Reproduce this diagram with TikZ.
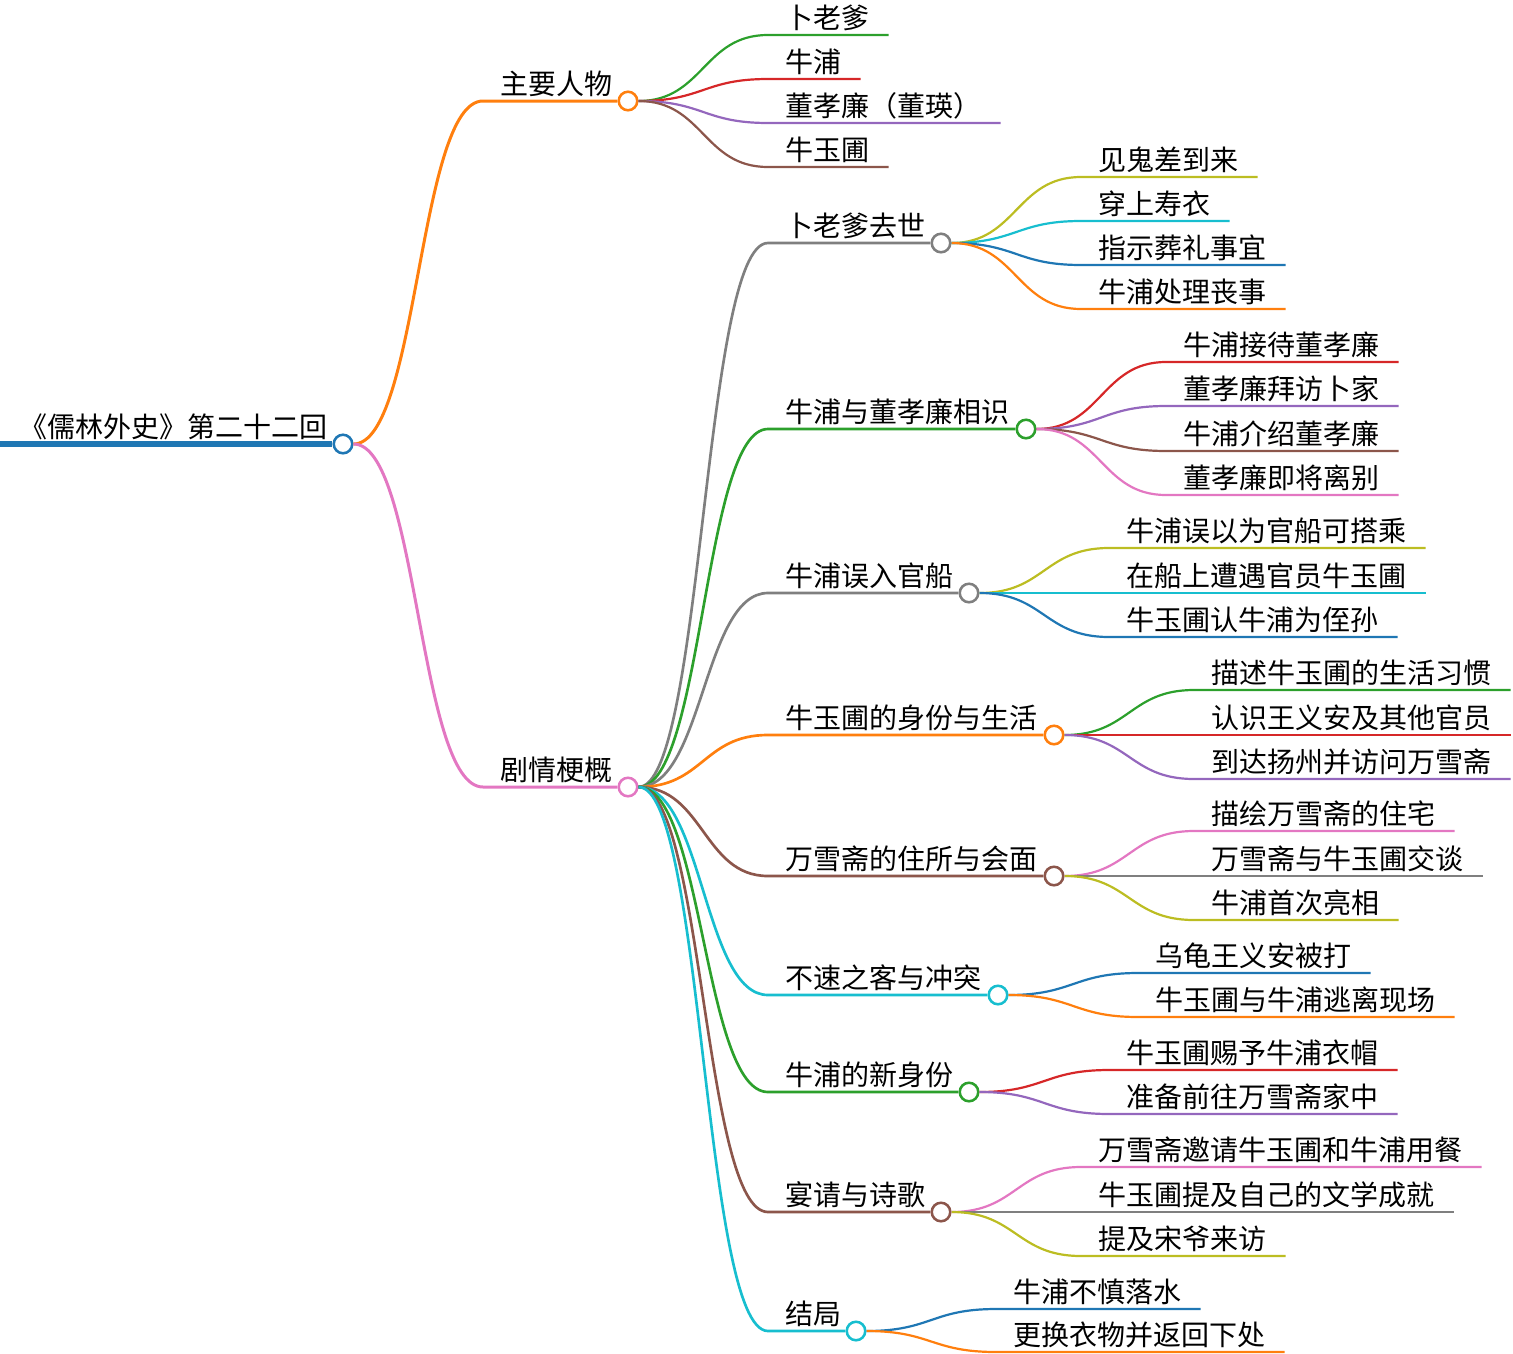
\documentclass[tikz,border=0pt]{standalone}
\usepackage{fontspec}
\newfontfamily\cjk{Noto Sans CJK SC}
\usetikzlibrary{calc}
\definecolor{cblue}{HTML}{1F77B4}
\definecolor{corange}{HTML}{FF7F0E}
\definecolor{cgreen}{HTML}{2CA02C}
\definecolor{cred}{HTML}{D62728}
\definecolor{cpurple}{HTML}{9467BD}
\definecolor{cbrown}{HTML}{8C564B}
\definecolor{cpink}{HTML}{E377C2}
\definecolor{cgray}{HTML}{7F7F7F}
\definecolor{colive}{HTML}{BCBD22}
\definecolor{ccyan}{HTML}{17BECF}
\newcommand\mmbranch[8]{%
  \node[txt] (#2t) at (#4+17,#3-7) {#8};
  \node[dot,draw=#6] (#2) at (#5,#3) {};
  \coordinate (#2s) at (#4,#3);
  \path ($(#1.east)!0.5!(#2s)$) coordinate (m);
  \draw[#7,#6] (#1.east) .. controls (m |- #1.east) and (m |- #2s) .. (#2s) -- (#2.west);
}
\newcommand\mmleaf[6]{%
  \node[txt] (#2) at (#4+17,#3-7) {#6};
  \coordinate (#2s) at (#4,#3);
  \coordinate (#2e) at ($(#2.base east)+(19,7)$);
  \path ($(#1.east)!0.5!(#2s)$) coordinate (m);
  \draw[l3,#5] (#1.east) .. controls (m |- #1.east) and (m |- #2s) .. (#2s) -- (#2e);
}
\begin{document}
\begin{tikzpicture}[x=0.75pt,y=-0.75pt,
  txt/.style={font=\cjk\fontsize{21}{25}\selectfont, inner sep=0pt, anchor=base west},
  l0/.style={line width=4.5pt},
  l1/.style={line width=2.25pt},
  l2/.style={line width=2pt},
  l3/.style={line width=1.65pt},
  dot/.style={circle, fill=white, line width=1.9pt, minimum size=13.9pt, inner sep=0pt}]
\useasboundingbox (0,0) rectangle (1513,1353);
% root
\coordinate (r0) at (0,444);
\node[txt] (roott) at (19,437) {《儒林外史》第二十二回};
\node[dot,draw=cblue] (root) at (343,444) {};
\draw[l0,cblue] (r0) -- (root.west);
% level 1
\mmbranch{root}{c1}{101}{483}{628}{corange}{l1}{主要人物}
\mmbranch{root}{c2}{787}{483}{628}{cpink}{l1}{剧情梗概}
% main characters
\mmleaf{c1}{p1}{35}{768}{cgreen}{卜老爹}
\mmleaf{c1}{p2}{79}{768}{cred}{牛浦}
\mmleaf{c1}{p3}{123}{768}{cpurple}{董孝廉（董瑛）}
\mmleaf{c1}{p4}{167}{768}{cbrown}{牛玉圃}
% plot
\mmbranch{c2}{a1}{243}{768}{941}{cgray}{l2}{卜老爹去世}
\mmbranch{c2}{a2}{429}{768}{1026}{cgreen}{l2}{牛浦与董孝廉相识}
\mmbranch{c2}{a3}{593}{768}{969}{cgray}{l2}{牛浦误入官船}
\mmbranch{c2}{a4}{735}{768}{1054}{corange}{l2}{牛玉圃的身份与生活}
\mmbranch{c2}{a5}{876}{768}{1054}{cbrown}{l2}{万雪斋的住所与会面}
\mmbranch{c2}{a6}{995}{768}{998}{ccyan}{l2}{不速之客与冲突}
\mmbranch{c2}{a7}{1092}{768}{969}{cgreen}{l2}{牛浦的新身份}
\mmbranch{c2}{a8}{1212}{768}{941}{cbrown}{l2}{宴请与诗歌}
\mmbranch{c2}{a9}{1331}{768}{856}{ccyan}{l2}{结局}
% a1
\mmleaf{a1}{b11}{177}{1081}{colive}{见鬼差到来}
\mmleaf{a1}{b12}{221}{1081}{ccyan}{穿上寿衣}
\mmleaf{a1}{b13}{265}{1081}{cblue}{指示葬礼事宜}
\mmleaf{a1}{b14}{309}{1081}{corange}{牛浦处理丧事}
% a2
\mmleaf{a2}{b21}{362}{1166}{cred}{牛浦接待董孝廉}
\mmleaf{a2}{b22}{406}{1166}{cpurple}{董孝廉拜访卜家}
\mmleaf{a2}{b23}{451}{1166}{cbrown}{牛浦介绍董孝廉}
\mmleaf{a2}{b24}{495}{1166}{cpink}{董孝廉即将离别}
% a3
\mmleaf{a3}{b31}{548}{1109}{colive}{牛浦误以为官船可搭乘}
\mmleaf{a3}{b32}{593}{1109}{ccyan}{在船上遭遇官员牛玉圃}
\mmleaf{a3}{b33}{637}{1109}{cblue}{牛玉圃认牛浦为侄孙}
% a4
\mmleaf{a4}{b41}{690}{1194}{cgreen}{描述牛玉圃的生活习惯}
\mmleaf{a4}{b42}{735}{1194}{cred}{认识王义安及其他官员}
\mmleaf{a4}{b43}{779}{1194}{cpurple}{到达扬州并访问万雪斋}
% a5
\mmleaf{a5}{b51}{831}{1194}{cpink}{描绘万雪斋的住宅}
\mmleaf{a5}{b52}{876}{1194}{cgray}{万雪斋与牛玉圃交谈}
\mmleaf{a5}{b53}{920}{1194}{colive}{牛浦首次亮相}
% a6
\mmleaf{a6}{b61}{973}{1138}{cblue}{乌龟王义安被打}
\mmleaf{a6}{b62}{1017}{1138}{corange}{牛玉圃与牛浦逃离现场}
% a7
\mmleaf{a7}{b71}{1070}{1109}{cred}{牛玉圃赐予牛浦衣帽}
\mmleaf{a7}{b72}{1114}{1109}{cpurple}{准备前往万雪斋家中}
% a8
\mmleaf{a8}{b81}{1167}{1081}{cpink}{万雪斋邀请牛玉圃和牛浦用餐}
\mmleaf{a8}{b82}{1212}{1081}{cgray}{牛玉圃提及自己的文学成就}
\mmleaf{a8}{b83}{1256}{1081}{colive}{提及宋爷来访}
% a9
\mmleaf{a9}{b91}{1309}{996}{cblue}{牛浦不慎落水}
\mmleaf{a9}{b92}{1352}{996}{corange}{更换衣物并返回下处}
\end{tikzpicture}
\end{document}
